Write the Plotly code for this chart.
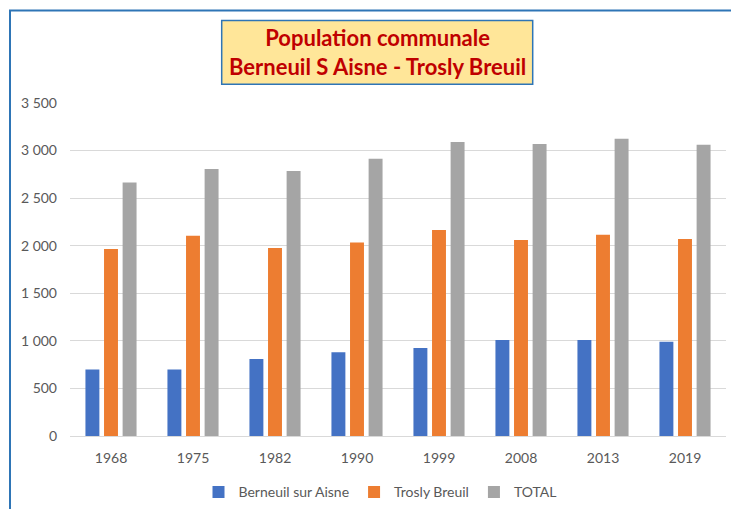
import plotly.graph_objects as go

years = ["1968", "1975", "1982", "1990", "1999", "2008", "2013", "2019"]
berneuil = [700, 700, 810, 880, 925, 1010, 1010, 990]
trosly = [1965, 2105, 1975, 2035, 2165, 2060, 2115, 2070]
total = [b + t for b, t in zip(berneuil, trosly)]
y_ticks = [0, 500, 1000, 1500, 2000, 2500, 3000, 3500]

W, H = 731, 509
L, R, T, B = 70, 5, 102.7, 72.5
pw, ph = W - L - R, H - T - B


def px(x):
    return (x - L) / pw


def py(y):
    return (H - B - y) / ph


FONT = "Lato"
fig = go.Figure()
for name, vals, col in [("Berneuil sur Aisne", berneuil, "#4472C4"),
                        ("Trosly Breuil", trosly, "#ED7D31"),
                        ("TOTAL", total, "#A5A5A5")]:
    fig.add_trace(go.Bar(x=years, y=vals, name=name, marker_color=col,
                         marker_line_width=0))

fig.update_layout(
    width=W, height=H,
    margin=dict(l=L, r=R, t=T, b=B, autoexpand=False),
    paper_bgcolor="white", plot_bgcolor="white",
    barmode="group", bargap=0.32, bargroupgap=0.25,
    separators=", ",
    font=dict(family=FONT, size=14, color="#595959"),
    showlegend=True,
    legend=dict(orientation="h", x=px(380), xanchor="center",
                y=py(493), yanchor="middle",
                font=dict(family=FONT, size=14, color="#595959"),
                bgcolor="rgba(0,0,0,0)"),
    xaxis=dict(showgrid=False, showline=True, linecolor="#D9D9D9", linewidth=1,
               ticks="", ticklabelstandoff=9, automargin=False,
               tickfont=dict(size=14, color="#595959")),
    yaxis=dict(range=[0, 3500], tickvals=y_ticks, tickformat=",d",
               showgrid=True, gridcolor="#D9D9D9", gridwidth=1,
               zeroline=False, showline=False, ticks="",
               ticklabelstandoff=12, automargin=False,
               tickfont=dict(size=14, color="#595959")),
)

# outer frame (blue border)
fig.add_shape(type="rect", xref="paper", yref="paper",
              x0=px(10), x1=px(740), y0=py(520), y1=py(10),
              line=dict(color="#2E75B6", width=2), fillcolor="rgba(0,0,0,0)",
              layer="above")
# title box
fig.add_shape(type="rect", xref="paper", yref="paper",
              x0=px(221.7), x1=px(532.7), y0=py(84), y1=py(20),
              line=dict(color="#2E75B6", width=1.5), fillcolor="#FFE699",
              layer="above")
fig.add_annotation(xref="paper", yref="paper", x=px(377.2), y=py(51.5),
                   xanchor="center", yanchor="middle", showarrow=False,
                   text="<b>Population communale<br>Berneuil S Aisne - Trosly Breuil</b>",
                   font=dict(family=FONT, size=22, color="#C00000"),
                   align="center")

fig.write_html("out.html")
